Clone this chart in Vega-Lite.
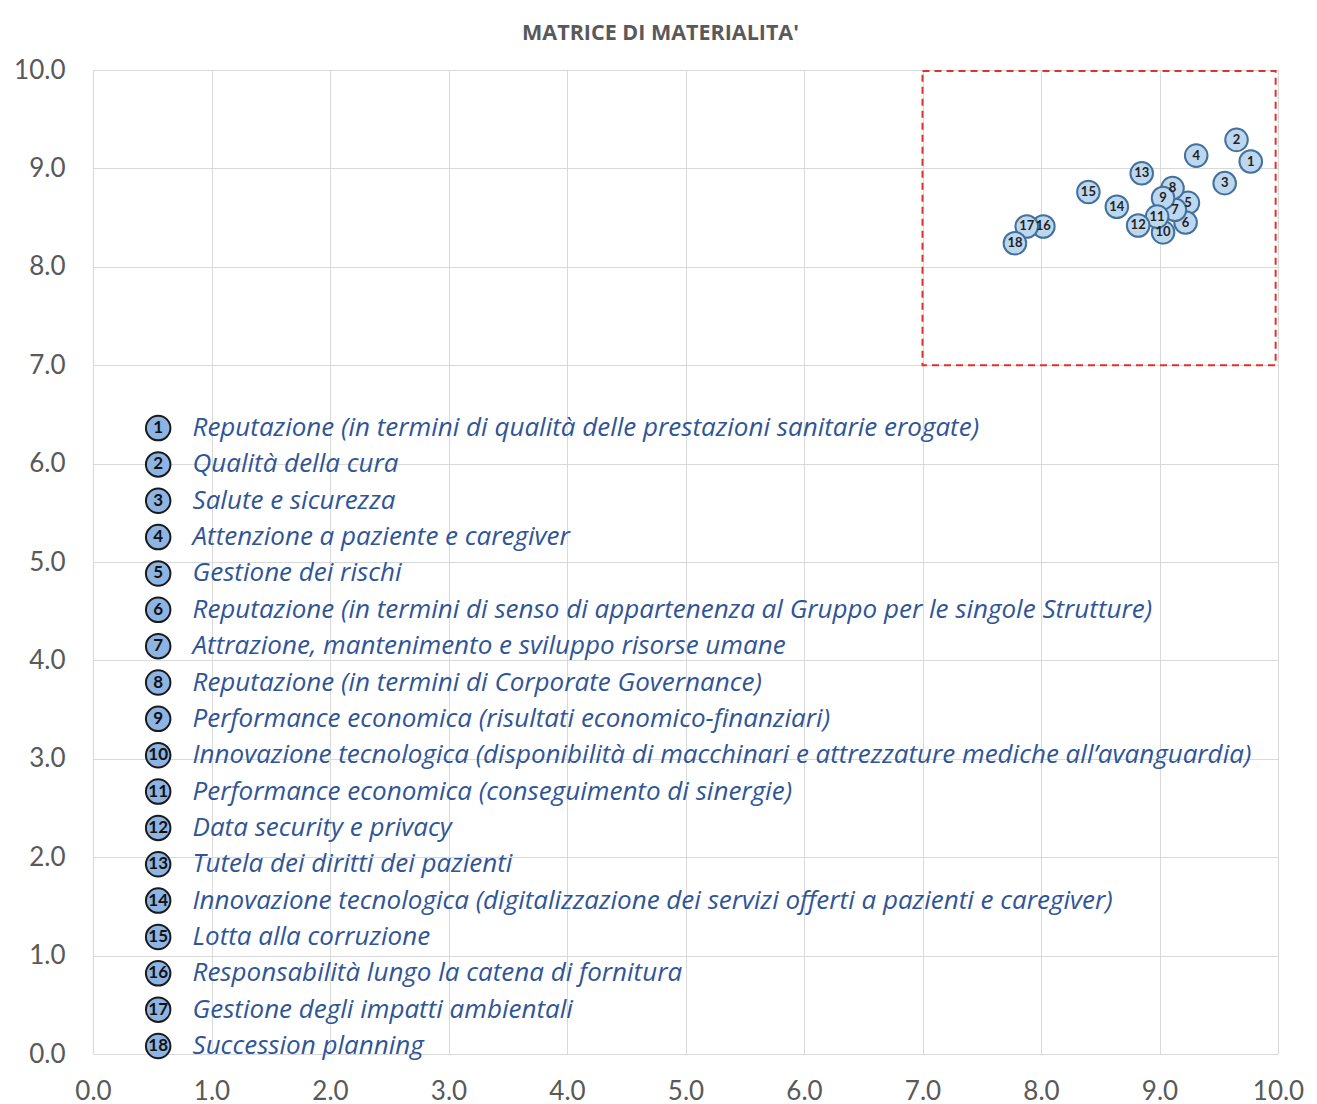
{
  "$schema": "https://vega.github.io/schema/vega-lite/v6.json",
  "width": 1185,
  "height": 984,
  "autosize": "none",
  "padding": {"left": 93, "top": 70, "right": 39, "bottom": 50},
  "background": "white",
  "title": {"text": "MATRICE DI MATERIALITA'", "font": "Open Sans", "fontSize": 21.5, "fontWeight": "bold", "color": "#595959", "offset": 13, "dx": -25, "anchor": "middle"},
  "config": {
    "view": {"stroke": null},
    "axis": {"grid": true, "gridColor": "#d9d9d9", "gridWidth": 1, "domain": false, "ticks": false, "labelFlush": false, "labelFont": "Lato", "labelFontSize": 26, "labelColor": "#595959", "title": null}
  },
  "datasets": {
    "points": [
      {"id": 1, "x": 9.77, "y": 9.07},
      {"id": 2, "x": 9.65, "y": 9.29},
      {"id": 3, "x": 9.55, "y": 8.85},
      {"id": 4, "x": 9.31, "y": 9.13},
      {"id": 5, "x": 9.24, "y": 8.65},
      {"id": 6, "x": 9.22, "y": 8.45},
      {"id": 7, "x": 9.13, "y": 8.58},
      {"id": 8, "x": 9.11, "y": 8.80},
      {"id": 9, "x": 9.03, "y": 8.70},
      {"id": 10, "x": 9.03, "y": 8.35},
      {"id": 11, "x": 8.98, "y": 8.51},
      {"id": 12, "x": 8.82, "y": 8.42},
      {"id": 13, "x": 8.85, "y": 8.95},
      {"id": 14, "x": 8.64, "y": 8.61},
      {"id": 15, "x": 8.40, "y": 8.76},
      {"id": 16, "x": 8.02, "y": 8.41},
      {"id": 17, "x": 7.88, "y": 8.41},
      {"id": 18, "x": 7.78, "y": 8.24}
    ],
    "legend": [
      {"id": 1, "label": "Reputazione (in termini di qualità delle prestazioni sanitarie erogate)"},
      {"id": 2, "label": "Qualità della cura"},
      {"id": 3, "label": "Salute e sicurezza"},
      {"id": 4, "label": "Attenzione a paziente e caregiver"},
      {"id": 5, "label": "Gestione dei rischi"},
      {"id": 6, "label": "Reputazione (in termini di senso di appartenenza al Gruppo per le singole Strutture)"},
      {"id": 7, "label": "Attrazione, mantenimento e sviluppo risorse umane"},
      {"id": 8, "label": "Reputazione (in termini di Corporate Governance)"},
      {"id": 9, "label": "Performance economica (risultati economico-finanziari)"},
      {"id": 10, "label": "Innovazione tecnologica (disponibilità di macchinari e attrezzature mediche all’avanguardia)"},
      {"id": 11, "label": "Performance economica (conseguimento di sinergie)"},
      {"id": 12, "label": "Data security e privacy"},
      {"id": 13, "label": "Tutela dei diritti dei pazienti"},
      {"id": 14, "label": "Innovazione tecnologica (digitalizzazione dei servizi offerti a pazienti e caregiver)"},
      {"id": 15, "label": "Lotta alla corruzione"},
      {"id": 16, "label": "Responsabilità lungo la catena di fornitura"},
      {"id": 17, "label": "Gestione degli impatti ambientali"},
      {"id": 18, "label": "Succession planning"}
    ],
    "zone": [{"x0": 7.0, "x1": 9.98, "y0": 7.0, "y1": 9.99}]
  },
  "resolve": {"scale": {"y": "independent"}},
  "layer": [
    {
      "layer": [
        {
          "data": {"name": "zone"},
          "mark": {"type": "rect", "fill": null, "stroke": "#e0312f", "strokeWidth": 2, "strokeDash": [7, 5]},
          "encoding": {
            "x": {"field": "x0", "type": "quantitative", "scale": {"domain": [0, 10], "nice": false}, "axis": {"values": [0,1,2,3,4,5,6,7,8,9,10], "format": ".1f", "labelPadding": 24}},
            "x2": {"field": "x1"},
            "y": {"field": "y0", "type": "quantitative", "scale": {"domain": [0, 10], "nice": false}, "axis": {"values": [0,1,2,3,4,5,6,7,8,9,10], "format": ".1f", "labelPadding": 28}},
            "y2": {"field": "y1"}
          }
        },
        {
          "data": {"name": "points"},
          "mark": {"type": "point", "shape": "circle", "filled": true, "size": 510, "fill": "#bdd7ee", "stroke": "#41719c", "strokeWidth": 2, "opacity": 1},
          "encoding": {
            "x": {"field": "x", "type": "quantitative"},
            "y": {"field": "y", "type": "quantitative"}
          }
        },
        {
          "data": {"name": "points"},
          "mark": {"type": "text", "font": "Lato", "fontSize": 13, "fontWeight": "bold", "color": "#222222"},
          "encoding": {
            "x": {"field": "x", "type": "quantitative"},
            "y": {"field": "y", "type": "quantitative"},
            "text": {"field": "id", "type": "nominal"}
          }
        }
      ]
    },
    {
      "data": {"name": "legend"},
      "encoding": {
        "y": {"field": "id", "type": "quantitative", "scale": {"domain": [-8.85, 18.22], "reverse": true, "nice": false, "zero": false}, "axis": null}
      },
      "layer": [
        {
          "mark": {"type": "point", "shape": "circle", "filled": true, "size": 600, "fill": "#8db4e2", "stroke": "#1a1a1a", "strokeWidth": 2, "opacity": 1},
          "encoding": {"x": {"datum": 0.55, "type": "quantitative"}}
        },
        {
          "mark": {"type": "text", "font": "Lato", "fontSize": 17, "fontWeight": "bold", "color": "#111111"},
          "encoding": {"x": {"datum": 0.55, "type": "quantitative"}, "text": {"field": "id", "type": "nominal"}}
        },
        {
          "mark": {"type": "text", "font": "Open Sans", "fontSize": 26, "fontStyle": "italic", "color": "#2f5597", "align": "left", "baseline": "middle"},
          "encoding": {"x": {"datum": 0.84, "type": "quantitative"}, "text": {"field": "label", "type": "nominal"}}
        }
      ]
    }
  ]
}
